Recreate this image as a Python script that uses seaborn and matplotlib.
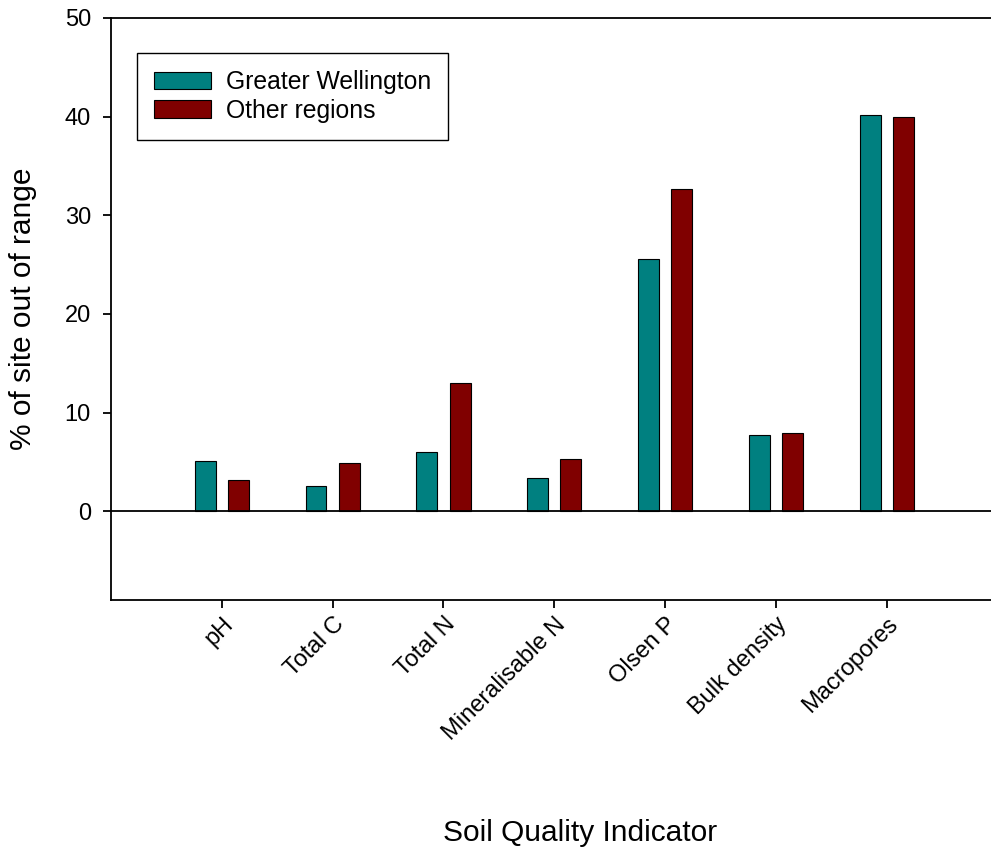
import matplotlib
matplotlib.use("Agg")
import matplotlib.pyplot as plt
import seaborn as sns
import pandas as pd

# Soil quality indicators and percentage of sites outside target range
indicators = ["pH", "Total C", "Total N", "Mineralisable N", "Olsen P",
              "Bulk density", "Macropores"]
greater_wellington = [5.1, 2.6, 6.0, 3.4, 25.6, 7.7, 40.2]
other_regions = [3.2, 4.9, 13.0, 5.3, 32.7, 7.9, 40.0]
series_names = ["Greater Wellington", "Other regions"]
y_ticks = [0, 10, 20, 30, 40, 50]

df = pd.DataFrame({
    "indicator": indicators * 2,
    "pct": greater_wellington + other_regions,
    "region": [series_names[0]] * len(indicators) + [series_names[1]] * len(indicators),
})

sns.set_style("ticks")
plt.rcParams["font.family"] = ["Liberation Sans", "DejaVu Sans"]
plt.rcParams["text.color"] = "black"
plt.rcParams["axes.labelcolor"] = "black"

fig = plt.figure(figsize=(9.91, 8.49), dpi=100)
ax = fig.add_axes([111 / 991, 1 - 600 / 849, 886.6 / 991, 582 / 849])

sns.barplot(data=df, x="indicator", y="pct", hue="region",
            palette=["#008080", "#800000"], saturation=1,
            width=0.6, gap=0.37, edgecolor="black", linewidth=0.8, ax=ax)

ax.axhline(0, color="black", lw=1.3, zorder=3)
ax.set_xlim(-1, 7)
ax.set_ylim(-9, 50)
ax.set_yticks(y_ticks)

for s in ["left", "bottom", "top"]:
    ax.spines[s].set_linewidth(1.3)
    ax.spines[s].set_color("black")
ax.spines["right"].set_visible(False)

ax.tick_params(axis="both", direction="out", length=6, width=1.3,
               labelsize=17, color="black", labelcolor="black")
ax.tick_params(axis="y", pad=8.5)
ax.set_xticks(range(len(indicators)))
ax.set_xticklabels(indicators, rotation=45, ha="right", rotation_mode="anchor")

ax.set_xlabel("Soil Quality Indicator", fontsize=21.5, color="black")
ax.xaxis.set_label_coords(0.529, -0.377)
ax.set_ylabel("% of site out of range", fontsize=21.5, color="black")
ax.yaxis.set_label_coords(-0.084, 0.5)

handles, labels = ax.get_legend_handles_labels()
leg = ax.legend(handles, labels, loc="upper left",
                bbox_to_anchor=(137 / 991, 1 - 53 / 849), bbox_transform=fig.transFigure,
                fontsize=17.8, frameon=True, fancybox=False, edgecolor="black",
                framealpha=1, handlelength=2.33, handleheight=0.7, handletextpad=0.6,
                labelspacing=0.2, borderpad=0.68, borderaxespad=0, title=None)
leg.get_frame().set_linewidth(1.0)
for t in leg.get_texts():
    t.set_color("black")

fig.savefig("out.png", dpi=100)
